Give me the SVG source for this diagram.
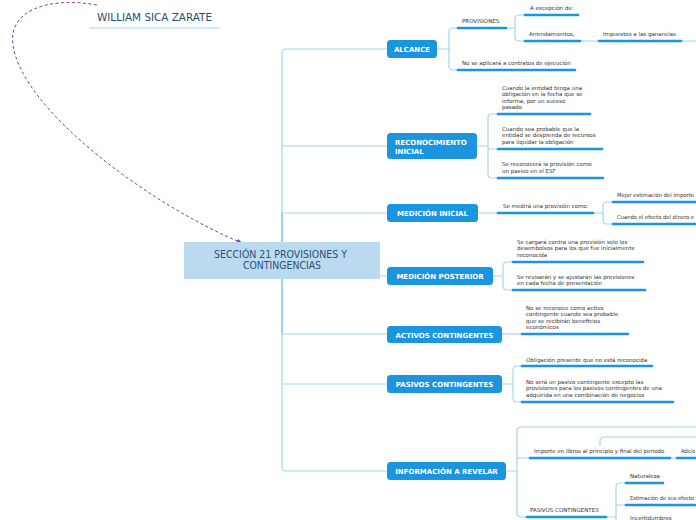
<svg xmlns="http://www.w3.org/2000/svg" width="696" height="520" viewBox="0 0 696 520">
<defs>
<style>
.conn{fill:none;stroke:#a6d5f2;stroke-width:1.2}
.ul{fill:none;stroke:#1b95e0;stroke-width:2.6;stroke-linecap:round}
.node{fill:#1b95e0}
.nt{font-family:"DejaVu Sans",Verdana,sans-serif;font-size:7px;font-weight:bold;fill:#ffffff}
.lt{font-family:"DejaVu Sans",Verdana,sans-serif;font-size:5.5px;fill:#333333}
.ct{font-family:"DejaVu Sans",Verdana,sans-serif;font-size:9.6px;fill:#2b5178}
</style>
<marker id="arr" viewBox="0 0 10 10" refX="9" refY="5" markerWidth="6" markerHeight="6" orient="auto">
<path d="M0,1 L10,5 L0,9 z" fill="#7b3fa0"/>
</marker>
</defs>
<rect width="696" height="520" fill="#ffffff"/>

<g id="connectors">
<path class="conn" d="M387,49 H286 Q282,49 282,53 V467 Q282,471 286,471 H387"/>
<path class="conn" d="M282,146 H387 M282,213 H387 M282,276 H387 M282,334 H387 M282,384 H387"/>
<path fill="none" stroke="#8ec8ee" stroke-width="1.4" d="M282,213 V334"/>
<path class="conn" d="M437,49 H449 M457,28 H453 Q449,28 449,32 V66 Q449,70 453,70 H457"/>
<path class="conn" d="M507,28 H515 M524,15 H519 Q515,15 515,19 V37 Q515,41 519,41 H524 M581,41 H598 M682,41 H696"/>
<path class="conn" d="M477,146 H488 M497,114 H492 Q488,114 488,118 V174 Q488,178 492,178 H497 M488,149 H497"/>
<path class="conn" d="M478,213 H497 M594,213 H603 M612,202 H607 Q603,202 603,206 V220 Q603,224 607,224 H612"/>
<path class="conn" d="M493,276 H503 M512,262 H507 Q503,262 503,266 V286 Q503,290 507,290 H512"/>
<path class="conn" d="M502,334 H521"/>
<path class="conn" d="M502,384 H513 M521,366 H517 Q513,366 513,370 V398 Q513,402 517,402 H521"/>
<path class="conn" d="M506,471 H517 M696,427 H521 Q517,427 517,431 V513 Q517,517 521,517 H526 M517,458 H529"/>
<path class="conn" d="M671,458 H676 M600,446 V441 Q600,437 604,437 H696"/>
<path class="conn" d="M607,517 H616 M625,483 H620 Q616,483 616,487 V530 M616,505 H625"/>
<path fill="none" stroke="#7b3fa0" stroke-width="1" stroke-dasharray="3,2.5" marker-end="url(#arr)" d="M97,5 C45,-4 8,12 13,45 C22,110 150,205 242,243"/>
</g>

<g id="title">
<text x="97" y="21" font-family="'DejaVu Sans',Verdana,sans-serif" font-size="10.5" fill="#1f4e6e" textLength="115" lengthAdjust="spacingAndGlyphs">WILLIAM SICA ZARATE</text>
<line x1="89" y1="28" x2="220" y2="28" stroke="#a6d5f2" stroke-width="1"/>
</g>

<g id="central">
<rect x="184" y="242" width="196" height="37" fill="#bcdaef"/>
<text class="ct" x="214" y="258" textLength="133" lengthAdjust="spacingAndGlyphs">SECCIÓN 21 PROVISIONES Y</text>
<text class="ct" x="243" y="269" textLength="78" lengthAdjust="spacingAndGlyphs">CONTINGENCIAS</text>
</g>

<g id="alcance">
<rect class="node" x="387" y="40" width="50" height="18" rx="3.5"/>
<text class="nt" x="412" y="51.5" text-anchor="middle">ALCANCE</text>
</g>
<g id="provisiones">
<text class="lt" x="462" y="23">PROVISIONES</text>
<line class="ul" x1="458" y1="28" x2="506" y2="28"/>
</g>
<g id="excepcion">
<text class="lt" x="530" y="10">A excepción de:</text>
<line class="ul" x1="525" y1="15" x2="578" y2="15"/>
</g>
<g id="arrendamientos">
<text class="lt" x="529" y="36">Arrendamientos,</text>
<line class="ul" x1="525" y1="41" x2="580" y2="41"/>
</g>
<g id="impuestos">
<text class="lt" x="603" y="36">Impuestos a las ganancias</text>
<line class="ul" x1="599" y1="41" x2="681" y2="41"/>
</g>
<g id="noaplicara">
<text class="lt" x="462" y="65">No se aplicará a contratos de ejecución</text>
<line class="ul" x1="458" y1="70" x2="575" y2="70"/>
</g>

<g id="reconocimiento">
<rect class="node" x="387" y="133" width="90" height="26" rx="3.5"/>
<text class="nt" x="395" y="145">RECONOCIMIENTO</text>
<text class="nt" x="395" y="153.5">INICIAL</text>
</g>
<g id="rec1">
<text class="lt" x="502" y="89.5">Cuando la entidad tenga una</text>
<text class="lt" x="502" y="96">obligación en la fecha que se</text>
<text class="lt" x="502" y="102.5">informa, por un suceso</text>
<text class="lt" x="502" y="109">pasado</text>
<line class="ul" x1="498" y1="114" x2="590" y2="114"/>
</g>
<g id="rec2">
<text class="lt" x="502" y="130.5">Cuando sea probable que la</text>
<text class="lt" x="502" y="137">entidad se desprenda de recursos</text>
<text class="lt" x="502" y="143.5">para liquidar la obligación</text>
<line class="ul" x1="498" y1="149" x2="602" y2="149"/>
</g>
<g id="rec3">
<text class="lt" x="502" y="166">Se reconocerá la provisión como</text>
<text class="lt" x="502" y="172.5">un pasivo en el ESF</text>
<line class="ul" x1="498" y1="178" x2="603" y2="178"/>
</g>

<g id="medicioninicial">
<rect class="node" x="387" y="204" width="91" height="18" rx="3.5"/>
<text class="nt" x="432.5" y="216" text-anchor="middle">MEDICIÓN INICIAL</text>
</g>
<g id="semedira">
<text class="lt" x="503" y="208">Se medirá una provisión como:</text>
<line class="ul" x1="498" y1="213" x2="593" y2="213"/>
</g>
<g id="mejor">
<text class="lt" x="617" y="197" textLength="77" lengthAdjust="spacingAndGlyphs">Mejor estimación del importe</text>
<line class="ul" x1="613" y1="202" x2="700" y2="202"/>
</g>
<g id="cuandoefecto">
<text class="lt" x="617" y="219" textLength="77" lengthAdjust="spacingAndGlyphs">Cuando el efecto del dinero e</text>
<line class="ul" x1="613" y1="224" x2="700" y2="224"/>
</g>

<g id="medicionposterior">
<rect class="node" x="387" y="267" width="106" height="18" rx="3.5"/>
<text class="nt" x="440" y="279" text-anchor="middle">MEDICIÓN POSTERIOR</text>
</g>
<g id="post1">
<text class="lt" x="517" y="243.5">Se cargará contra una provisión solo los</text>
<text class="lt" x="517" y="250">desembolsos para los que fue inicialmente</text>
<text class="lt" x="517" y="256.5">reconocida</text>
<line class="ul" x1="513" y1="262" x2="643" y2="262"/>
</g>
<g id="post2">
<text class="lt" x="517" y="278.5">Se revisarán y se ajustarán las provisiones</text>
<text class="lt" x="517" y="285">en cada fecha de presentación</text>
<line class="ul" x1="513" y1="290" x2="645" y2="290"/>
</g>

<g id="activos">
<rect class="node" x="387" y="326" width="115" height="17" rx="3.5"/>
<text class="nt" x="444.5" y="337.5" text-anchor="middle">ACTIVOS CONTINGENTES</text>
</g>
<g id="act1">
<text class="lt" x="526" y="309.5">No se reconoce como activo</text>
<text class="lt" x="526" y="316">contingente cuando sea probable</text>
<text class="lt" x="526" y="322.5">que se recibirán beneficios</text>
<text class="lt" x="526" y="329">económicos</text>
<line class="ul" x1="522" y1="334" x2="628" y2="334"/>
</g>

<g id="pasivos">
<rect class="node" x="387" y="375" width="115" height="18" rx="3.5"/>
<text class="nt" x="444.5" y="387" text-anchor="middle">PASIVOS CONTINGENTES</text>
</g>
<g id="pas1">
<text class="lt" x="526" y="361.5">Obligación presente que no está reconocida</text>
<line class="ul" x1="522" y1="366" x2="652" y2="366"/>
</g>
<g id="pas2">
<text class="lt" x="526" y="383.5">No será un pasivo contingente excepto las</text>
<text class="lt" x="526" y="390">provisiones para los pasivos contingentes de una</text>
<text class="lt" x="526" y="396.5">adquirida en una combinación de negocios</text>
<line class="ul" x1="522" y1="402" x2="673" y2="402"/>
</g>

<g id="informacion">
<rect class="node" x="387" y="462" width="119" height="18" rx="3.5"/>
<text class="nt" x="446.5" y="474" text-anchor="middle">INFORMACIÓN A REVELAR</text>
</g>
<g id="importe">
<text class="lt" x="534" y="453">Importe en libros al principio y final del periodo</text>
<line class="ul" x1="530" y1="458" x2="670" y2="458"/>
</g>
<g id="adicio">
<text class="lt" x="681" y="453" textLength="14" lengthAdjust="spacingAndGlyphs">Adicio</text>
<line class="ul" x1="677" y1="458" x2="700" y2="458"/>
</g>
<g id="pasivoscont2">
<text class="lt" x="530" y="511.5">PASIVOS CONTINGENTES</text>
<line class="ul" x1="527" y1="517" x2="606" y2="517"/>
</g>
<g id="naturaleza">
<text class="lt" x="630" y="478">Naturaleza</text>
<line class="ul" x1="626" y1="483" x2="663" y2="483"/>
</g>
<g id="estimacion">
<text class="lt" x="630" y="500" textLength="64" lengthAdjust="spacingAndGlyphs">Estimación de sus efecto</text>
<line class="ul" x1="626" y1="505" x2="700" y2="505"/>
</g>
<g id="incertidumbres">
<text class="lt" x="630" y="519.5">Incertidumbres</text>
</g>
</svg>
